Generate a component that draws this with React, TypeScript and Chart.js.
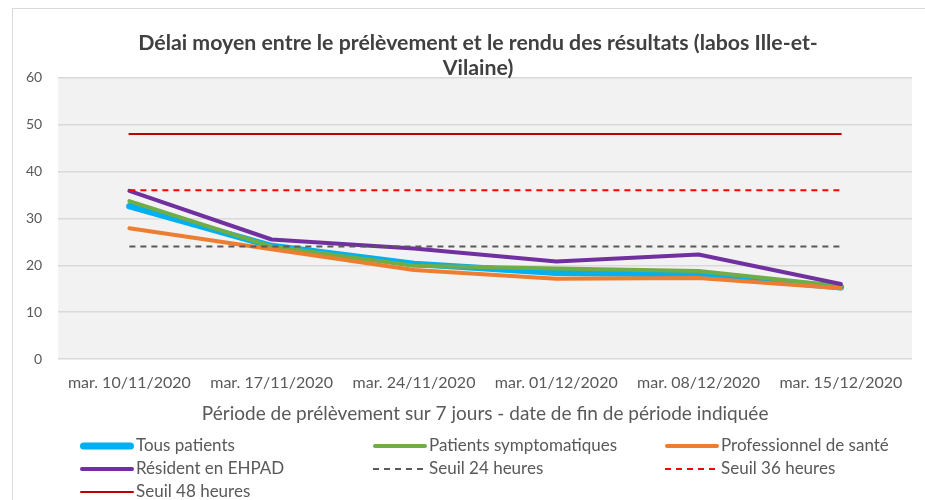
import { useEffect, useRef } from "react";
import { Chart, registerables } from "chart.js";

Chart.register(...registerables);

const categories = [
  "mar. 10/11/2020",
  "mar. 17/11/2020",
  "mar. 24/11/2020",
  "mar. 01/12/2020",
  "mar. 08/12/2020",
  "mar. 15/12/2020",
];
const tousPatients = [32.6, 24.1, 20.3, 18.4, 18.1, 15.3];
const patientsSymptomatiques = [33.7, 24.0, 19.9, 19.3, 18.8, 15.6];
const professionnelSante = [27.9, 23.4, 19.0, 17.1, 17.3, 15.1];
const residentEhpad = [35.9, 25.5, 23.6, 20.8, 22.3, 16.0];
const seuil24 = [24, 24, 24, 24, 24, 24];
const seuil36 = [36, 36, 36, 36, 36, 36];
const seuil48 = [48, 48, 48, 48, 48, 48];
const yTicks = [0, 10, 20, 30, 40, 50, 60];

const FONT = "Lato, 'Open Sans', sans-serif";
const TEXT = "#595959";

const bgPlugin = {
  id: "plotBg",
  beforeDraw(chart: any) {
    const { ctx, chartArea } = chart;
    ctx.save();
    ctx.fillStyle = "#f2f2f2";
    ctx.fillRect(chartArea.left, chartArea.top, chartArea.right - chartArea.left, chartArea.bottom - chartArea.top);
    ctx.restore();
  },
};

const legendPlugin = {
  id: "gridLegend",
  afterDraw(chart: any) {
    const { ctx } = chart;
    const colX = [80, 373, 665];
    const rowY = [446, 469, 492];
    const lineLen = 54;
    ctx.save();
    ctx.font = `17px ${FONT}`;
    ctx.textBaseline = "middle";
    chart.data.datasets.forEach((ds: any, i: number) => {
      const x = colX[i % 3];
      const y = rowY[Math.floor(i / 3)];
      const dashed = ds.borderDash && ds.borderDash.length;
      ctx.beginPath();
      ctx.strokeStyle = ds.borderColor;
      ctx.lineWidth = ds.legendWidth;
      ctx.lineCap = dashed ? "butt" : "round";
      ctx.setLineDash(ds.borderDash || []);
      ctx.moveTo(x + (dashed ? 0 : ds.legendWidth / 2), y);
      ctx.lineTo(x + lineLen - (dashed ? 0 : ds.legendWidth / 2), y);
      ctx.stroke();
      ctx.setLineDash([]);
      ctx.fillStyle = TEXT;
      ctx.fillText(ds.label, x + lineLen + 2, y);
    });
    ctx.restore();
  },
};

export default function App() {
  const ref = useRef<HTMLCanvasElement | null>(null);

  useEffect(() => {
    if (!ref.current) return;
    const mk = (label: string, data: number[], color: string, width: number, legendWidth: number, order: number, dash: number[] = []) => ({
      label,
      data,
      borderColor: color,
      backgroundColor: color,
      borderWidth: width,
      legendWidth,
      borderDash: dash,
      pointRadius: 0,
      pointHoverRadius: 0,
      tension: 0,
      fill: false,
      order,
      borderCapStyle: dash.length ? "butt" : "round",
      borderJoinStyle: "round",
    });
    const chart = new Chart(ref.current, {
      type: "line",
      data: {
        labels: categories,
        datasets: [
          mk("Tous patients", tousPatients, "#00b0f0", 6.5, 7, 7),
          mk("Patients symptomatiques", patientsSymptomatiques, "#70ad47", 4, 4, 6),
          mk("Professionnel de santé", professionnelSante, "#ed7d31", 4, 4, 5),
          mk("Résident en EHPAD", residentEhpad, "#7030a0", 4, 4, 4),
          mk("Seuil 24 heures", seuil24, "#595959", 2, 2, 3, [6, 5]),
          mk("Seuil 36 heures", seuil36, "#ff0000", 2, 2, 2, [6, 5]),
          mk("Seuil 48 heures", seuil48, "#c00000", 2, 2, 1),
        ] as any,
      },
      options: {
        responsive: false,
        animation: false,
        events: [],
        layout: { padding: { top: 31, left: 10, right: 13, bottom: 75 } },
        plugins: {
          legend: { display: false },
          tooltip: { enabled: false },
          title: {
            display: true,
            text: [
              "Délai moyen entre le prélèvement et le rendu des résultats (labos Ille-et-",
              "Vilaine)",
            ],
            color: "#404040",
            font: { family: FONT, size: 21.3, weight: "bold", lineHeight: 1.17 },
            padding: { top: 0, bottom: -3 },
          },
        },
        scales: {
          x: {
            offset: true,
            grid: { display: false },
            border: { display: false },
            ticks: { color: TEXT, font: { family: FONT, size: 16 }, padding: 6, maxRotation: 0, autoSkip: false },
            title: {
              display: true,
              text: "Période de prélèvement sur 7 jours - date de fin de période indiquée",
              color: TEXT,
              font: { family: FONT, size: 19 },
              padding: { top: 4, bottom: 0 },
            },
          },
          y: {
            min: 0,
            max: 60,
            afterBuildTicks(scale: any) {
              scale.ticks = yTicks.map((v) => ({ value: v }));
            },
            grid: { color: "#d9d9d9", lineWidth: 1.5, drawTicks: false },
            border: { display: false },
            ticks: { color: TEXT, font: { family: FONT, size: 14 }, padding: 16 },
          },
          spacer: {
            type: "linear",
            position: "right",
            min: 0,
            max: 60,
            grid: { display: false, drawTicks: false },
            border: { display: false },
            ticks: { display: false },
            afterFit(scale: any) {
              scale.width = 34;
            },
          },
        },
      },
      plugins: [bgPlugin, legendPlugin],
    } as any);
    return () => chart.destroy();
  }, []);

  return (
    <div style={{ position: "fixed", left: 0, top: 0, width: 925, height: 500, overflow: "hidden", background: "#fff" }}>
      <div
        style={{
          position: "absolute",
          left: 12,
          top: 8,
          width: 960,
          height: 520,
          borderTop: "1px solid #d9d9d9",
          borderLeft: "1px solid #d9d9d9",
          boxSizing: "border-box",
        }}
      />
      <canvas ref={ref} width={959} height={500} style={{ position: "absolute", left: 0, top: 0 }} />
    </div>
  );
}
